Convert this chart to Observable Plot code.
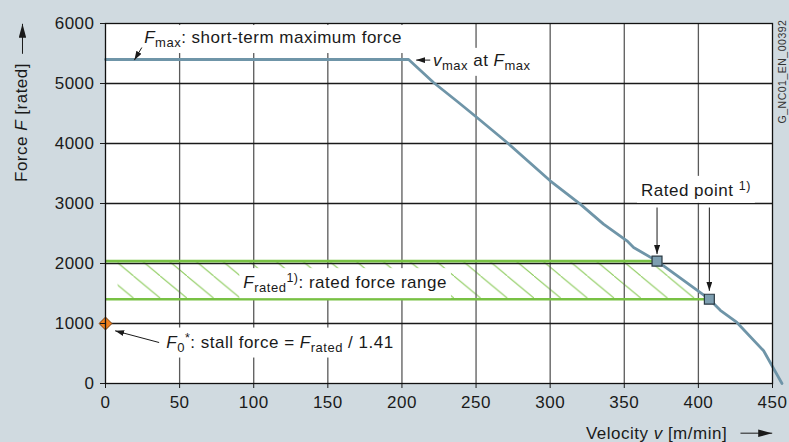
<!DOCTYPE html>
<html><head><meta charset="utf-8">
<script src="https://cdn.jsdelivr.net/npm/d3@7"></script>
<script src="https://cdn.jsdelivr.net/npm/@observablehq/plot@0.6"></script>
<style>html,body{margin:0;padding:0;background:#d0dae0;} svg{display:block}</style>
</head><body><div id="chart"></div>
<script>
// ---- data ----
const curveV = [0, 204.5, 221.3, 238.2, 250.6, 270.9, 300, 320.3, 336, 351.8, 356.3, 372.1, 390, 407.4, 414.8, 426, 444, 456.4];
const curveF = [5400, 5400, 5017, 4683, 4433, 4017, 3378, 2990, 2657, 2378, 2267, 2040, 1717, 1405, 1220, 1017, 545, 0];

const ratedV = [372.1, 407.4];
const ratedF = [2040, 1405];

const stallV = [0];
const stallF = [1000];

const hatchF = [1405, 2040];
const hatchLeftV = [8.5, 8.5];
const hatchRightV = [407.4, 372.1];

const xTicks = [0, 50, 100, 150, 200, 250, 300, 350, 400, 450];
const yTicks = [0, 1000, 2000, 3000, 4000, 5000, 6000];
const gridV = [50, 100, 150, 200, 250, 300, 350, 400];
const gridF = [1000, 2000, 3000, 4000, 5000];

const labelText = [
  "~{F}_{max}: short-term maximum force",
  "~{v}_{max} at ~{F}_{max}",
  "~{F}_{rated}^{1)}: rated force range",
  "~{F}_{0}^{*}: stall force = ~{F}_{rated} / 1.41",
  "Rated point ^{1)}"
];
const labelV = [26.1, 220.9, 93, 41, 361.3];
const labelF = [5765, 5385, 1680, 690, 3218];

const arrowV1 = [24.5, 219.1, 36.2, 372.1, 407.4];
const arrowF1 = [5600, 5390, 683, 2933, 2933];
const arrowV2 = [19.5, 209.6, 6.5, 372.1, 407.4];
const arrowF2 = [5390, 5390, 878, 2157, 1545];

const axisArrowV1 = [-56.0, 428.4];
const axisArrowF1 = [5495, -828];
const axisArrowV2 = [-56.0, 449.8];
const axisArrowF2 = [5995, -828];

const yTitle = "Force ~{F} [rated]";
const xTitle = "Velocity ~{v} [m/min]";
const codeText = "G_NC01_EN_00392";

// ---- build tables ----
const curve = curveV.map((v, i) => ({v, f: curveF[i]}));
const rated = ratedV.map((v, i) => ({v, f: ratedF[i]}));
const stall = stallV.map((v, i) => ({v, f: stallF[i]}));
const hatch = hatchF.map((f, i) => ({f, l: hatchLeftV[i], r: hatchRightV[i]}));
const bands = ratedF.map((f, i) => ({f, end: ratedV[i]}));
const labels = labelText.map((t, i) => ({t, v: labelV[i], f: labelF[i]}));
const arrows = arrowV1.map((v, i) => ({x1: v, y1: arrowF1[i], x2: arrowV2[i], y2: arrowF2[i]}));
const axisArrows = axisArrowV1.map((v, i) => ({x1: v, y1: axisArrowF1[i], x2: axisArrowV2[i], y2: axisArrowF2[i]}));

const FONT = "Liberation Sans, Arial, Helvetica, sans-serif";
const fmt = d3.format("d");

const chart = Plot.plot({
  width: 789,
  height: 442,
  marginLeft: 105,
  marginRight: 17,
  marginTop: 23,
  marginBottom: 59,
  style: {fontFamily: FONT, fontSize: "17px", letterSpacing: "0.5px", background: "#d0dae0", color: "#1a1a1a"},
  x: {domain: [0, 450]},
  y: {domain: [0, 6000]},
  marks: [
    Plot.frame({fill: "white", stroke: "none"}),
    Plot.areaX(hatch, {y: "f", x1: "l", x2: "r", fill: "url(#hatch)"}),
    Plot.gridX(gridV, {stroke: "#5a5a5a", strokeOpacity: 1, strokeWidth: 1.3}),
    Plot.gridY(gridF, {stroke: "#1a1a1a", strokeOpacity: 1, strokeWidth: 1.5}),
    Plot.ruleY(bands, {y: "f", x1: 0, x2: "end", stroke: "#78c144", strokeWidth: 2.6}),
    Plot.line(curve, {x: "v", y: "f", stroke: "#6f95a8", strokeWidth: 2.8, strokeLinejoin: "round"}),
    Plot.dot(rated, {x: "v", y: "f", symbol: "square", r: 5.6, fill: "#7d9eb0", stroke: "#2b3a44", strokeWidth: 1.2}),
    Plot.dot(stall, {x: "v", y: "f", symbol: "diamond2", r: 5.8, fill: "#f0801e", stroke: "#7a4010", strokeWidth: 1}),
    Plot.text(labels, {x: "v", y: "f", text: "t", textAnchor: "start", lineAnchor: "middle", fontSize: 17, fill: "#1a1a1a", ariaDescription: "rich boxed"}),
    Plot.link(arrows, {x1: "x1", y1: "y1", x2: "x2", y2: "y2", stroke: "#1a1a1a", strokeWidth: 1, ariaDescription: "ann-arrow"}),
    Plot.axisY({ticks: yTicks, tickSize: 5, tickPadding: 6, fontSize: 17, label: null, tickFormat: fmt}),
    Plot.axisX({ticks: xTicks, tickSize: 5, tickPadding: 7, fontSize: 17, label: null, tickFormat: fmt}),
    Plot.text([yTitle], {frameAnchor: "top-left", textAnchor: "middle", lineAnchor: "middle", dx: -84, dy: 99, rotate: -90, fontSize: 17, fill: "#1a1a1a", ariaDescription: "rich"}),
    Plot.text([xTitle], {frameAnchor: "bottom-left", textAnchor: "middle", lineAnchor: "middle", dx: 551, dy: 50, fontSize: 17, fill: "#1a1a1a", ariaDescription: "rich"}),
    Plot.text([codeText], {frameAnchor: "top-right", textAnchor: "middle", lineAnchor: "middle", dx: 10.5, dy: 48, rotate: -90, fontSize: 10.5, fill: "#333"}),
    Plot.link(axisArrows, {x1: "x1", y1: "y1", x2: "x2", y2: "y2", stroke: "#1a1a1a", strokeWidth: 1, ariaDescription: "axis-arrow"}),
    Plot.frame({stroke: "#111", strokeWidth: 1.3})
  ]
});

document.getElementById("chart").appendChild(chart);

// ---- post-processing: defs, rich text, label boxes, arrow heads ----
const NS = "http://www.w3.org/2000/svg";
const defs = d3.select(chart).insert("defs", ":first-child");
const pat = defs.append("pattern")
  .attr("id", "hatch").attr("patternUnits", "userSpaceOnUse")
  .attr("width", 26.7).attr("height", 22.25).attr("x", 0).attr("y", 8.95);
pat.append("path").attr("d", "M-5,-4.166L31.7,26.416").attr("stroke", "#86c853").attr("stroke-width", 1).attr("fill", "none");

function marker(id, len, wid) {
  const m = defs.append("marker").attr("id", id)
    .attr("viewBox", `0 0 ${len} ${wid}`).attr("refX", len).attr("refY", wid / 2)
    .attr("markerWidth", len).attr("markerHeight", wid)
    .attr("orient", "auto").attr("markerUnits", "userSpaceOnUse");
  m.append("path").attr("d", `M0,0L${len},${wid / 2}L0,${wid}Z`).attr("fill", "#1a1a1a");
}
marker("headS", 9, 6);
marker("headL", 14, 7.5);

d3.select(chart).selectAll('g[aria-description="ann-arrow"] path').attr("marker-end", "url(#headS)");
d3.select(chart).selectAll('g[aria-description="axis-arrow"] path').attr("marker-end", "url(#headL)");

const SUB = 4, SUP = -6;
function richify(el) {
  const s = el.textContent;
  const parts = s.split(/(~\{[^}]*\}|_\{[^}]*\}|\^\{[^}]*\})/).filter(p => p.length);
  while (el.firstChild) el.removeChild(el.firstChild);
  let cur = 0;
  for (const p of parts) {
    const ts = document.createElementNS(NS, "tspan");
    let target = 0, txt = p;
    if (p.startsWith("~{")) { txt = p.slice(2, -1); ts.setAttribute("font-style", "italic"); }
    else if (p.startsWith("_{")) { txt = p.slice(2, -1); target = SUB; ts.setAttribute("font-size", "13px"); }
    else if (p.startsWith("^{")) { txt = p.slice(2, -1); target = SUP; ts.setAttribute("font-size", "12.5px"); }
    if (target !== cur) ts.setAttribute("dy", target - cur);
    cur = target;
    ts.textContent = txt;
    el.appendChild(ts);
  }
}
chart.querySelectorAll('g[aria-description~="rich"] text').forEach(richify);

chart.querySelectorAll('g[aria-description~="boxed"] text').forEach(t => {
  const b = t.getBBox();
  const r = document.createElementNS(NS, "rect");
  r.setAttribute("x", b.x - 4);
  r.setAttribute("y", b.y - 3);
  r.setAttribute("width", b.width + 8);
  r.setAttribute("height", b.height + 6);
  r.setAttribute("fill", "white");
  r.setAttribute("stroke", "none");
  const tr = t.getAttribute("transform");
  if (tr) r.setAttribute("transform", tr);
  t.parentNode.insertBefore(r, t);
});
</script>
</body></html>
